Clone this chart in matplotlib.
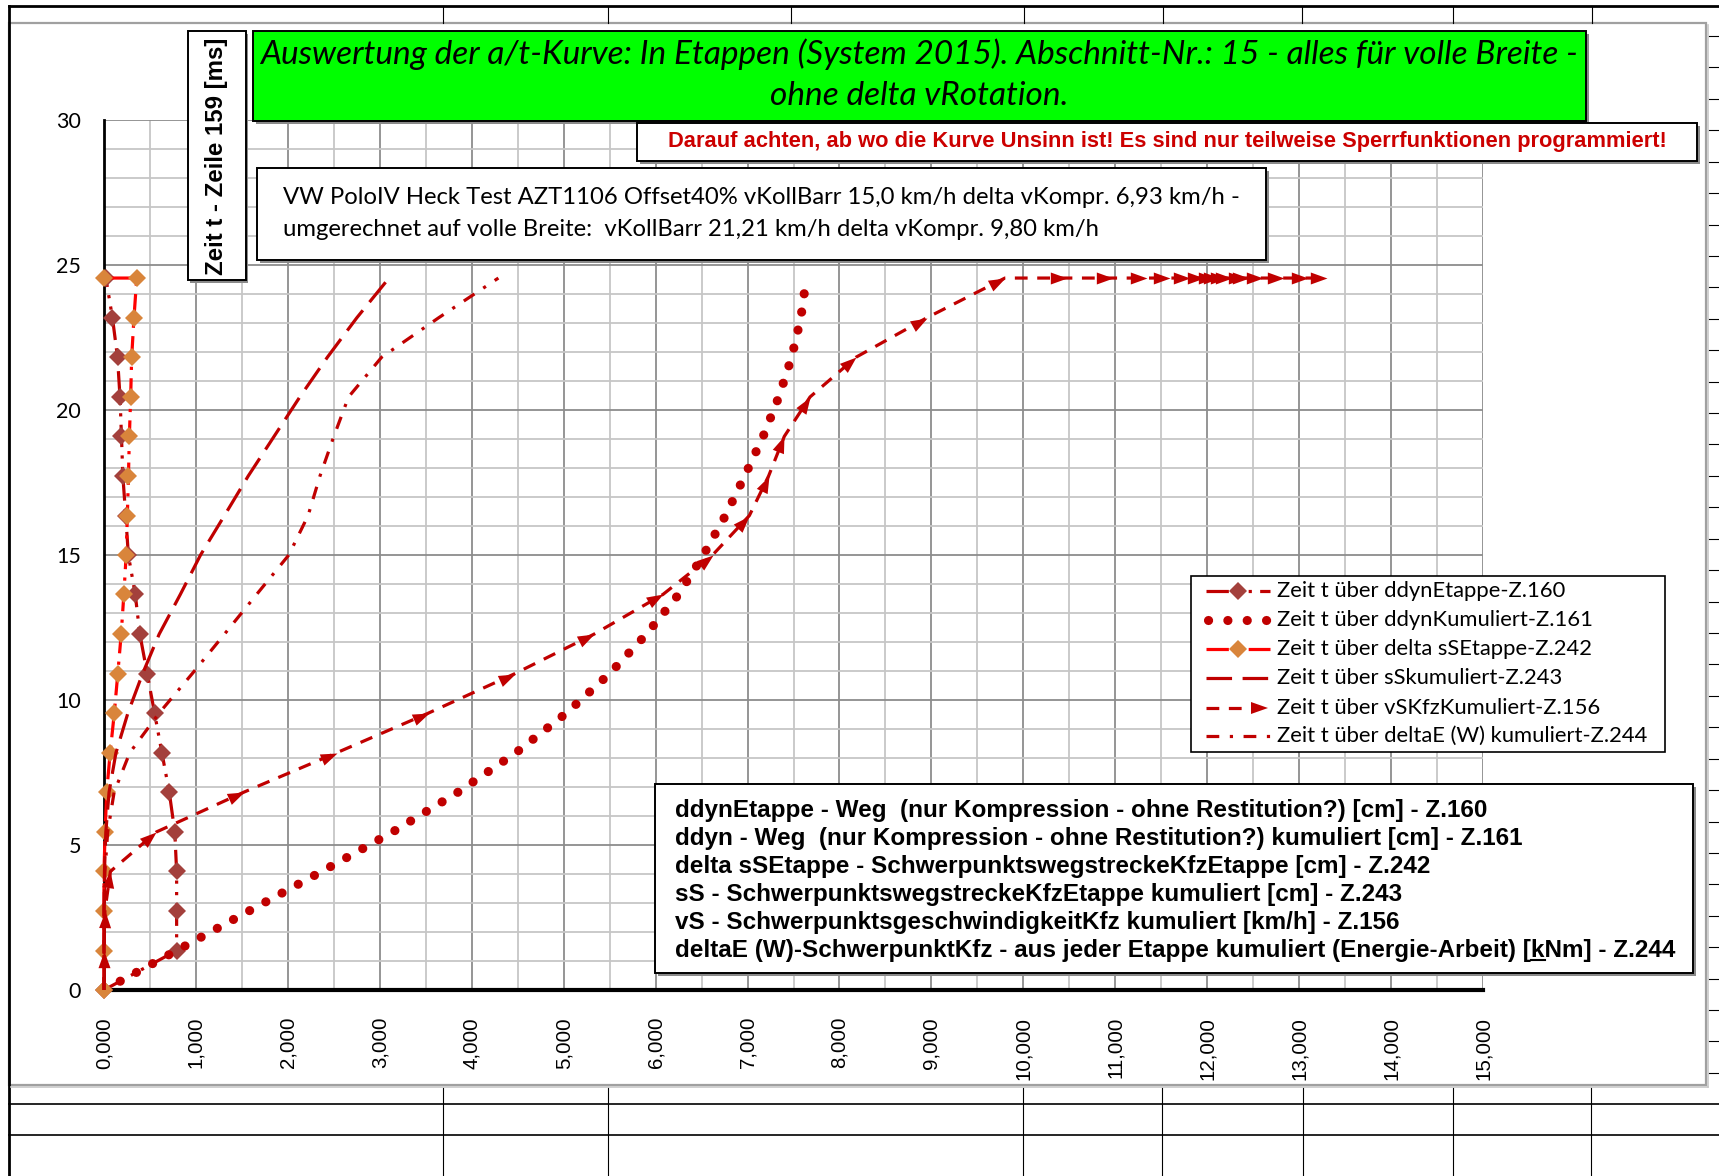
import numpy as np
import matplotlib
matplotlib.use('Agg')
import matplotlib.pyplot as plt
from matplotlib.patches import Rectangle, Polygon
from matplotlib.lines import Line2D
from matplotlib.markers import MarkerStyle
from matplotlib.path import Path
from matplotlib.transforms import Affine2D

# Zeit t [ms] - Zeile 159
zeit = [0.00, 1.36, 2.73, 4.09, 5.45, 6.82, 8.18, 9.55, 10.91, 12.27,
        13.64, 15.00, 16.36, 17.73, 19.09, 20.45, 21.82, 23.18, 24.55]

# Z.160 ddynEtappe [cm]
ddyn_etappe = [0.00, 0.79, 0.79, 0.79, 0.77, 0.71, 0.63, 0.55, 0.47, 0.39,
               0.34, 0.265, 0.236, 0.205, 0.19, 0.174, 0.147, 0.092, 0.02]
# Z.161 ddyn kumuliert [cm]
ddyn_kumuliert = [0.00, 0.79, 1.58, 2.37, 3.14, 3.85, 4.48, 5.03, 5.50, 5.90,
                  6.25, 6.52, 6.76, 6.97, 7.17, 7.34, 7.48, 7.58, 7.64]
# Z.242 delta sSEtappe [cm] (letzte Zeile leer -> 0)
zeit_dss = zeit + [24.55]
dss_etappe = [0.00, 0.00, 0.00, 0.00, 0.012, 0.029, 0.067, 0.112, 0.15, 0.187,
              0.216, 0.241, 0.254, 0.266, 0.276, 0.29, 0.301, 0.326, 0.356, 0.00]
# Z.243 sS kumuliert [cm]
ss_kumuliert = [0.00, 0.00, 0.00, 0.005, 0.02, 0.055, 0.13, 0.26, 0.42, 0.60,
                0.83, 1.05, 1.31, 1.57, 1.85, 2.13, 2.43, 2.75, 3.10]
# Z.156 vS kumuliert [km/h] (Zeit bleibt ab Zeile 19 stehen)
zeit_vs = zeit + [24.55] * 16
vs_kumuliert = [0.00, 0.00, 0.01, 0.07, 0.57, 1.52, 2.53, 3.53, 4.47, 5.33,
                6.08, 6.62, 7.02, 7.23, 7.40, 7.68, 8.18, 8.95, 9.80,
                10.47, 10.98, 11.34, 11.60, 11.81, 11.96, 12.08, 12.14,
                12.21, 12.27, 12.41, 12.46, 12.61, 12.83, 13.10, 13.30]
# Z.244 deltaE (W) kumuliert [kNm]
delta_e = [0.00, 0.00, 0.00, 0.01, 0.04, 0.11, 0.28, 0.60, 0.96, 1.31,
           1.66, 2.01, 2.22, 2.35, 2.50, 2.66, 3.02, 3.64, 4.29]

legende = ['Zeit t über ddynEtappe-Z.160',
           'Zeit t über ddynKumuliert-Z.161',
           'Zeit t über delta sSEtappe-Z.242',
           'Zeit t über sSkumuliert-Z.243',
           'Zeit t über vSKfzKumuliert-Z.156',
           'Zeit t über deltaE (W) kumuliert-Z.244']

erklaerung = ['ddynEtappe - Weg  (nur Kompression - ohne Restitution?) [cm] - Z.160',
              'ddyn - Weg  (nur Kompression - ohne Restitution?) kumuliert [cm] - Z.161',
              'delta sSEtappe - SchwerpunktswegstreckeKfzEtappe [cm] - Z.242',
              'sS - SchwerpunktswegstreckeKfzEtappe kumuliert [cm] - Z.243',
              'vS - SchwerpunktsgeschwindigkeitKfz kumuliert [km/h] - Z.156',
              'deltaE (W)-SchwerpunktKfz - aus jeder Etappe kumuliert (Energie-Arbeit) [kNm] - Z.244']

titel1 = 'Auswertung der a/t-Kurve: In Etappen (System 2015). Abschnitt-Nr.: 15 - alles für volle Breite -'
titel2 = 'ohne delta vRotation.'
warnung = 'Darauf achten, ab wo die Kurve Unsinn ist! Es sind nur teilweise Sperrfunktionen programmiert!'
info1 = 'VW PoloIV Heck Test AZT1106 Offset40% vKollBarr 15,0 km/h delta vKompr. 6,93 km/h -'
info2 = 'umgerechnet auf volle Breite:  vKollBarr 21,21 km/h delta vKompr. 9,80 km/h'
y_titel = 'Zeit t - Zeile 159 [ms]'

DUNKELROT = '#c00000'
ROT = '#ff0000'
BRAUN = '#a3403c'
ORANGE = '#d9853b'
LW = 2.3
MS_RAUTE = 8.9

# Excel-Strichmuster (in Linienbreiten)
LDDD = (0, (7, 2.6, 1, 2.6, 1, 2.6))
LDD = (0, (7, 2.6, 1, 2.6))
PUNKT = (0, (0.01, 2.0))
LANG = (0, (8, 3.3))
STRICH = (0, (4, 3))
STRICHPUNKT = (0, (4, 3.3, 1, 3.3))

# Pfeilspitze mit der Spitze im Datenpunkt
PFEIL = Path([(0, 0), (-1, 0.36), (-1, -0.36), (0, 0)],
             [Path.MOVETO, Path.LINETO, Path.LINETO, Path.CLOSEPOLY])

W, H = 1719, 1176
fig = plt.figure(figsize=(W / 100, H / 100), dpi=100)
fig.patch.set_facecolor('white')

ax = fig.add_axes([104 / W, 1 - 990 / H, (1483 - 104) / W, (990 - 120) / H])
ax.set_xlim(0, 15)
ax.set_ylim(0, 30)

ax.plot(ddyn_etappe, zeit, color=DUNKELROT, lw=LW, ls=LDDD, marker='D', ms=MS_RAUTE,
        mfc=BRAUN, mec=BRAUN, mew=0, clip_on=False, zorder=3)
ax.plot(ddyn_kumuliert, zeit, color=DUNKELROT, lw=6.6, ls=PUNKT,
        dash_capstyle='round', clip_on=False, zorder=3)
ax.plot(dss_etappe, zeit_dss, color=ROT, lw=LW, ls=LDD, marker='D', ms=MS_RAUTE,
        mfc=ORANGE, mec=ORANGE, mew=0, clip_on=False, zorder=3)
ax.plot(ss_kumuliert, zeit, color=DUNKELROT, lw=LW, ls=LANG, clip_on=False, zorder=3)
ax.plot(vs_kumuliert, zeit_vs, color=DUNKELROT, lw=LW, ls=STRICH, clip_on=False, zorder=3)

# Pfeilspitzen am Ende jedes Segments
pts = ax.transData.transform(np.column_stack([vs_kumuliert, zeit_vs]))
for k in range(1, len(pts)):
    d = pts[k] - pts[k - 1]
    if np.hypot(d[0], d[1]) < 1e-6:
        continue
    ang = np.degrees(np.arctan2(d[1], d[0]))
    m = MarkerStyle(PFEIL, transform=Affine2D().rotate_deg(ang))
    ax.plot(vs_kumuliert[k], zeit_vs[k], marker=m, ms=24, color=DUNKELROT,
            mew=0, ls='none', clip_on=False, zorder=3)

ax.plot(delta_e, zeit, color=DUNKELROT, lw=LW, ls=STRICHPUNKT, clip_on=False, zorder=3)

# Achsen, Gitter
xt = np.arange(0, 16)
ax.set_xticks(xt)
ax.set_xticklabels([f'{v:.3f}'.replace('.', ',') for v in xt],
                   family='Liberation Sans', fontsize=14.8, rotation=90)
ax.set_xticks(np.arange(0.5, 15, 1), minor=True)
ax.set_yticks(range(0, 31, 5))
ax.set_yticklabels([str(v) for v in range(0, 31, 5)], family='Lato', fontsize=15.5)
ax.set_yticks(range(0, 31), minor=True)
ax.tick_params(which='both', length=0)
ax.tick_params(axis='x', pad=19.4)
ax.tick_params(axis='y', pad=16.5)
ax.grid(which='major', color='#8c8c8c', lw=1.3)
ax.grid(which='minor', color='#c6c6c6', lw=1.3)
ax.set_axisbelow(True)
for s in ['top', 'right']:
    ax.spines[s].set_visible(False)
ax.spines['left'].set_linewidth(2)
ax.spines['bottom'].set_linewidth(3)

# Overlay in Pixelkoordinaten (Tabellenblatt, Textfelder, Legende)
ov = fig.add_axes([0, 0, 1, 1], zorder=10)
ov.set_xlim(0, W)
ov.set_ylim(H, 0)
ov.axis('off')
ov.patch.set_alpha(0)

r = fig.canvas.get_renderer()


def anpassen(t, soll, hoch=False):
    bb = t.get_window_extent(r)
    ist = bb.height if hoch else bb.width
    t.set_fontsize(t.get_fontsize() * soll / ist)
    return t.get_fontsize()


def kasten(x0, y0, x1, y1, fc='white', lw=1.4):
    ov.add_patch(Rectangle((x0 + 2.5, y0 + 2.5), x1 - x0, y1 - y0, fc='#8a8a8a', ec='none'))
    ov.add_patch(Rectangle((x0, y0), x1 - x0, y1 - y0, fc=fc, ec='black', lw=lw))


# Tabellenlinien
ov.plot([9, W], [6, 6], color='black', lw=2)
ov.plot([9, 9], [6, H], color='black', lw=2)
for x in [443, 608, 791, 1024, 1163, 1302, 1453, 1592]:
    ov.plot([x, x], [6, 23], color='black', lw=0.8)
ov.add_patch(Rectangle((9, 23), 1697, 1062, fc='none', ec='#a0a0a0', lw=1.6))
ov.plot([11, 1708], [1087, 1087], color='#c8c8c8', lw=1.2)
ov.plot([1708, 1708], [25, 1087], color='#c8c8c8', lw=1.2)
for y in [1104, 1135]:
    ov.plot([9, W], [y, y], color='black', lw=1.2)
for x in [443, 608, 1023, 1162, 1303, 1453, 1591]:
    ov.plot([x, x], [1088, H], color='black', lw=0.8)
for k in range(34):
    y = 36 + 31.42 * k
    ov.plot([1709, W], [y, y], color='black', lw=0.8)

# Titel
kasten(253, 31, 1586, 121, fc='#00ff00')
t1 = ov.text(919.5, 54, titel1, ha='center', va='center', family='Lato',
             style='italic', fontsize=20)
fs = anpassen(t1, 1316)
ov.text(919.5, 96, titel2, ha='center', va='center', family='Lato',
        style='italic', fontsize=fs)

# Warnhinweis
kasten(637, 123, 1697, 161)
tw = ov.text(1167, 142, warnung, ha='center', va='center', family='Liberation Sans',
             weight='bold', color='#cc0000', fontsize=13.5)
anpassen(tw, 994)

# Y-Achsentitel im Kasten
kasten(187.5, 31, 245.5, 280)
ty = ov.text(216.5, 156, y_titel, ha='center', va='center', rotation=90,
             family='Liberation Sans', weight='bold', fontsize=17)
anpassen(ty, 238, hoch=True)

# Fahrzeugdaten
kasten(257, 168, 1266, 260)
ti = ov.text(283, 197, info1, ha='left', va='center', family='Lato', fontsize=16.5)
fs = anpassen(ti, 956)
ov.text(283, 230, info2, ha='left', va='center', family='Lato', fontsize=fs)

# Legende
ov.add_patch(Rectangle((1191, 576), 474, 176, fc='white', ec='black', lw=1.2))
zeilen = [591, 620, 649, 678, 708, 736]
x0, x1, xm = 1206, 1270, 1238
y = zeilen[0]
ov.add_line(Line2D([x0, x1], [y, y], color=DUNKELROT, lw=LW, ls=LDDD))
ov.plot(xm, y, marker='D', ms=MS_RAUTE, color=BRAUN, mew=0)
y = zeilen[1]
ov.add_line(Line2D([x0 + 2, x1], [y, y], color=DUNKELROT, lw=6.6, ls=(0, (0.01, 2.1)),
                   dash_capstyle='round'))
y = zeilen[2]
ov.add_line(Line2D([x0, x1], [y, y], color=ROT, lw=LW, ls=LDD))
ov.plot(xm, y, marker='D', ms=MS_RAUTE, color=ORANGE, mew=0)
y = zeilen[3]
ov.add_line(Line2D([x0, x1], [y, y], color=DUNKELROT, lw=LW, ls=LANG))
y = zeilen[4]
ov.add_line(Line2D([x0, 1252], [y, y], color=DUNKELROT, lw=LW, ls=STRICH))
ov.add_patch(Polygon([(1268, y), (1251, y - 6), (1251, y + 6)], closed=True,
                     fc=DUNKELROT, ec='none'))
y = zeilen[5]
ov.add_line(Line2D([x0, x1], [y, y], color=DUNKELROT, lw=LW, ls=STRICHPUNKT))

leg_texte = [ov.text(1277, yy, s, ha='left', va='center', family='Lato', fontsize=15)
             for s, yy in zip(legende, zeilen)]
fs = anpassen(leg_texte[-1], 371)
for t in leg_texte:
    t.set_fontsize(fs)

# Erklaerungen
kasten(655, 784, 1693, 973)
erk_y = [811 + 27.8 * k for k in range(len(erklaerung))]
erk_texte = [ov.text(675, yy, s, ha='left', va='center', family='Liberation Sans',
                     weight='bold', fontsize=14.5)
             for s, yy in zip(erklaerung, erk_y)]
fs = anpassen(erk_texte[-1], 997)
for t in erk_texte:
    t.set_fontsize(fs)

# "k" in [kNm] unterstrichen
letzte = erklaerung[-1]
pos = letzte.index('[k') + 1
tmp = ov.text(675, erk_y[-1], letzte[:pos], ha='left', va='center',
              family='Liberation Sans', weight='bold', fontsize=fs)
xa = 675 + tmp.get_window_extent(r).width
tmp.set_text(letzte[:pos + 1])
xb = 675 + tmp.get_window_extent(r).width
tmp.remove()
ov.plot([xa, xb], [erk_y[-1] + 10, erk_y[-1] + 10], color='black', lw=1.5)

fig.savefig('out.png', dpi=100)
